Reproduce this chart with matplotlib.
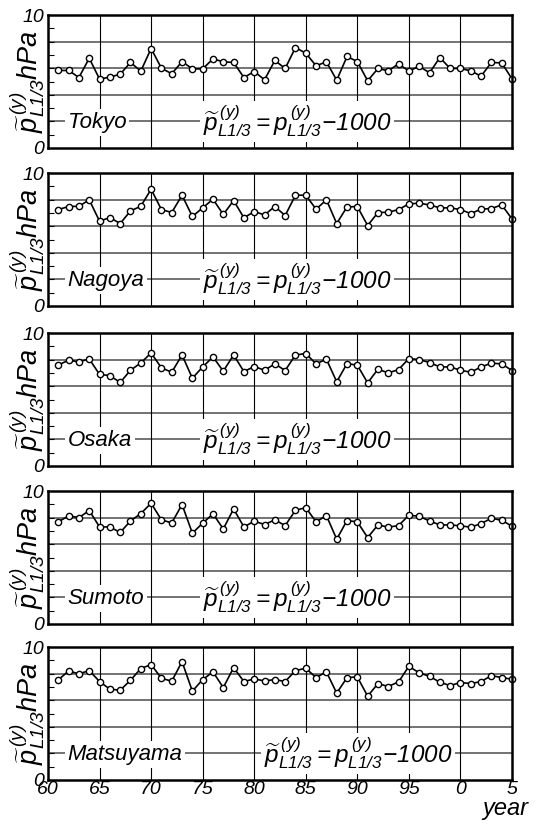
import numpy as np
import matplotlib; matplotlib.use('Agg')
import matplotlib.pyplot as plt

plt.rcParams['font.family'] = ['Liberation Sans', 'DejaVu Sans']
plt.rcParams['font.style'] = 'italic'
plt.rcParams['mathtext.fontset'] = 'custom'
plt.rcParams['mathtext.rm'] = 'Liberation Sans:italic'
plt.rcParams['mathtext.it'] = 'Liberation Sans:italic'
plt.rcParams['mathtext.sf'] = 'Liberation Sans:italic'

# annual L1/3 pressure minus 1000 hPa, 1961-2005
years = list(range(1961, 2006))
stations = ['Tokyo', 'Nagoya', 'Osaka', 'Sumoto', 'Matsuyama']
tokyo = [5.83, 5.83, 5.3, 6.75, 5.18, 5.33, 5.55, 6.43, 5.78, 7.48,
         6.0, 5.58, 6.5, 5.95, 5.95, 6.7, 6.48, 6.43, 5.3, 5.75,
         5.13, 6.58, 5.98, 7.55, 7.13, 6.18, 6.48, 5.1, 6.88, 6.5,
         5.05, 5.98, 5.8, 6.33, 5.78, 6.15, 5.65, 6.8, 5.98, 5.98,
         5.8, 5.4, 6.43, 6.4, 5.2]
nagoya = [7.25, 7.48, 7.5, 7.98, 6.38, 6.65, 6.2, 7.15, 7.5, 8.78,
          7.25, 7.03, 8.33, 6.73, 7.38, 8.03, 6.88, 7.93, 6.63, 7.1,
          6.85, 7.48, 6.8, 8.33, 8.33, 7.28, 7.98, 6.2, 7.45, 7.48,
          6.05, 7.03, 7.05, 7.25, 7.68, 7.73, 7.6, 7.38, 7.38, 7.25,
          6.95, 7.28, 7.33, 7.6, 6.55]
osaka = [7.6, 7.95, 7.83, 8.05, 6.88, 6.8, 6.28, 7.2, 7.75, 8.5,
         7.38, 7.05, 8.35, 6.6, 7.45, 8.2, 7.13, 8.35, 7.1, 7.48,
         7.2, 7.68, 7.18, 8.35, 8.45, 7.68, 8.03, 6.33, 7.7, 7.58,
         6.25, 7.28, 7.0, 7.25, 8.08, 8.0, 7.78, 7.45, 7.45, 7.2,
         7.05, 7.45, 7.73, 7.68, 7.18]
sumoto = [7.68, 8.13, 8.0, 8.53, 7.3, 7.3, 6.88, 7.75, 8.3, 9.08,
          7.83, 7.6, 8.98, 6.83, 7.58, 8.28, 7.15, 8.65, 7.3, 7.73,
          7.48, 7.83, 7.4, 8.55, 8.75, 7.68, 8.15, 6.38, 7.78, 7.68,
          6.5, 7.45, 7.28, 7.4, 8.18, 8.1, 7.75, 7.45, 7.45, 7.38,
          7.28, 7.55, 7.95, 7.8, 7.35]
matsuyama = [7.53, 8.2, 7.98, 8.23, 7.4, 6.83, 6.75, 7.5, 8.38, 8.68,
             7.65, 7.43, 8.9, 6.68, 7.55, 8.13, 6.95, 8.45, 7.4, 7.6,
             7.45, 7.55, 7.4, 8.23, 8.4, 7.7, 8.13, 6.53, 7.7, 7.75,
             6.3, 7.25, 7.03, 7.38, 8.55, 8.05, 7.8, 7.35, 7.1, 7.33,
             7.25, 7.4, 7.85, 7.7, 7.58]
series = [tokyo, nagoya, osaka, sumoto, matsuyama]

xticks = list(range(1960, 2006, 5))
xticklabels = ['60', '65', '70', '75', '80', '85', '90', '95', '0', '5']
formula = r'$\widetilde{p}^{\,(y)}_{L1/3}=p^{\,(y)}_{L1/3}\!-\!1000$'
ylabel = r'$\widetilde{p}^{\,(y)}_{L1/3}\mathrm{hPa}$'

W, H = 555, 827
fig = plt.figure(figsize=(W / 100, H / 100), dpi=100)
tops = [15, 173, 333, 491, 647]
ph = 133
form_x = [1975.0, 1975.0, 1975.0, 1975.0, 1980.9]

for i, (name, vals) in enumerate(zip(stations, series)):
    ax = fig.add_axes([48 / W, 1 - (tops[i] + ph) / H, 464 / W, ph / H])
    ax.set_xlim(1960, 2005); ax.set_ylim(0, 10)
    for yy in [2, 4, 6, 8]:
        ax.axhline(yy, color='0.3', lw=1.1, zorder=1)
    for xx in xticks[1:-1]:
        ax.axvline(xx, color='k', lw=0.8, zorder=1)
    ax.plot(years, vals, '-o', color='k', lw=1.2, ms=4.5, mfc='white', mec='k', mew=1.0,
            zorder=3, clip_on=False)
    ax.text(1961.9, 1.5, name, fontsize=16, style='italic', ha='left', va='baseline', zorder=4,
            bbox=dict(fc='white', ec='none', pad=2))
    ax.text(form_x[i], 1.3, formula, fontsize=17.5, ha='left', va='baseline', zorder=4,
            bbox=dict(fc='white', ec='none', pad=2))
    ax.set_yticks([0, 10]); ax.set_yticklabels(['0', '10'], fontsize=14, style='italic')
    ax.set_yticks(np.arange(0, 11, 1), minor=True)
    ax.tick_params(axis='y', which='major', length=0, pad=3)
    ax.tick_params(axis='y', which='minor', direction='in', length=4, width=0.8)
    ax.set_xticks(xticks)
    ax.tick_params(axis='x', which='major', length=0, pad=1)
    if i == len(stations) - 1:
        ax.set_xticklabels(xticklabels, fontsize=14, style='italic')
    else:
        ax.set_xticklabels([])
    for sp in ax.spines.values():
        sp.set_linewidth(1.8); sp.set_zorder(5)
    ax.text(-0.045, 0.5, ylabel, transform=ax.transAxes, rotation=90, fontsize=19.5,
            ha='center', va='center')

fig.text(505 / W, 1 - 809 / H, 'year', fontsize=17, style='italic', ha='center', va='center')
fig.savefig('out.png', dpi=100)
